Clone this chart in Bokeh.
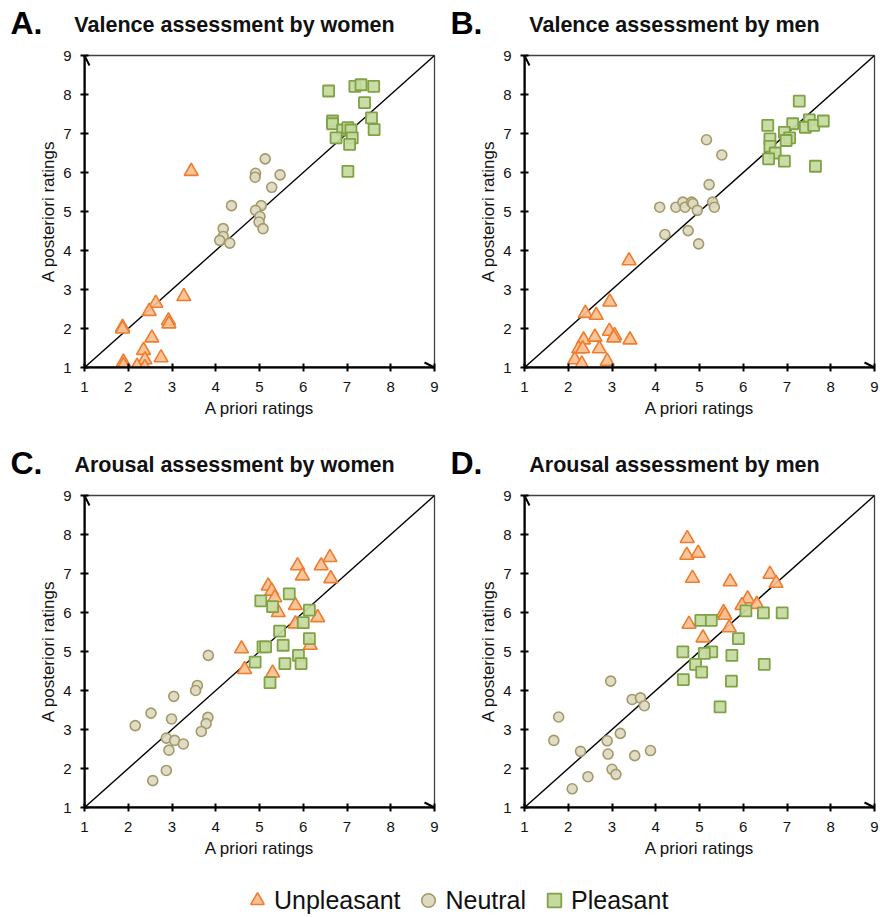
from bokeh.plotting import figure
from bokeh.layouts import column, row
from bokeh.models import Range1d, FixedTicker, Label, Arrow, OpenHead, Legend, LegendItem
from bokeh.core.properties import value
from bokeh.embed import file_html
from bokeh.resources import INLINE

# ---------------- data ----------------
TICKS = [1, 2, 3, 4, 5, 6, 7, 8, 9]
AXIS_MIN, AXIS_MAX = 1, 9
CATEGORIES = ["Unpleasant", "Neutral", "Pleasant"]
LETTERS = ["A.", "B.", "C.", "D."]
TITLES = ["Valence assessment by women", "Valence assessment by men",
          "Arousal assessment by women", "Arousal assessment by men"]
X_LABEL = "A priori ratings"
Y_LABEL = "A posteriori ratings"

# A. Valence, women
VW_UNP_X = [3.44, 3.27, 2.63, 2.48, 2.92, 2.93, 1.87, 1.87, 2.54, 2.35, 2.38, 2.75, 1.89, 1.89, 2.20, 2.38]
VW_UNP_Y = [6.03, 2.82, 2.65, 2.44, 2.20, 2.12, 2.03, 1.99, 1.76, 1.44, 1.20, 1.25, 1.14, 1.05, 1.03, 1.00]
VW_NEU_X = [5.13, 4.91, 4.90, 5.47, 5.28, 4.36, 5.04, 4.91, 5.01, 4.99, 5.08, 4.17, 4.17, 4.09, 4.32]
VW_NEU_Y = [6.35, 5.98, 5.88, 5.94, 5.62, 5.15, 5.15, 5.03, 4.87, 4.73, 4.56, 4.56, 4.36, 4.26, 4.19]
VW_PLE_X = [6.58, 7.18, 7.32, 7.61, 7.40, 7.56, 7.62, 6.67, 6.67, 6.90, 7.02, 7.09, 7.12, 6.75, 7.06, 7.02]
VW_PLE_Y = [8.09, 8.21, 8.25, 8.21, 7.79, 7.40, 7.10, 7.32, 7.25, 7.09, 7.15, 7.09, 6.89, 6.89, 6.72, 6.03]

# B. Valence, men
VM_UNP_X = [3.39, 2.95, 2.39, 2.64, 2.94, 3.06, 3.04, 3.41, 2.35, 2.61, 2.24, 2.33, 2.71, 2.15, 2.31, 2.89]
VM_UNP_Y = [3.74, 2.68, 2.39, 2.34, 1.93, 1.82, 1.76, 1.71, 1.71, 1.78, 1.48, 1.48, 1.48, 1.20, 1.09, 1.16]
VM_NEU_X = [5.16, 5.51, 5.22, 4.09, 4.46, 4.62, 4.67, 4.82, 4.85, 4.95, 5.30, 5.34, 4.21, 4.74, 4.98]
VM_NEU_Y = [6.84, 6.45, 5.69, 5.11, 5.11, 5.24, 5.11, 5.24, 5.20, 5.03, 5.24, 5.11, 4.41, 4.51, 4.17]
VM_PLE_X = [7.28, 6.56, 7.13, 7.51, 7.42, 7.61, 7.83, 6.94, 6.61, 7.06, 6.98, 6.61, 6.73, 6.58, 6.94, 7.65]
VM_PLE_Y = [7.83, 7.21, 7.25, 7.35, 7.16, 7.21, 7.32, 7.03, 6.86, 6.89, 6.82, 6.67, 6.50, 6.35, 6.29, 6.16]

# C. Arousal, women
AW_UNP_X = [6.61, 6.41, 5.87, 5.98, 6.63, 5.20, 5.28, 5.35, 5.82, 5.43, 6.33, 5.82, 6.16, 4.59, 4.66, 5.30]
AW_UNP_Y = [7.41, 7.20, 7.20, 6.94, 6.87, 6.68, 6.55, 6.38, 6.18, 6.00, 5.87, 5.71, 5.16, 5.07, 4.54, 4.45]
AW_NEU_X = [3.83, 3.58, 3.54, 3.04, 2.52, 2.16, 2.99, 3.82, 3.78, 3.67, 2.87, 3.06, 3.26, 2.93, 2.87, 2.56]
AW_NEU_Y = [4.90, 4.13, 4.00, 3.85, 3.42, 3.10, 3.27, 3.31, 3.15, 2.95, 2.78, 2.72, 2.63, 2.47, 1.95, 1.69]
AW_PLE_X = [5.68, 5.03, 5.30, 6.14, 6.00, 5.46, 6.14, 5.08, 5.14, 5.54, 4.90, 5.89, 5.95, 5.58, 5.24]
AW_PLE_Y = [6.48, 6.30, 6.15, 6.06, 5.74, 5.52, 5.33, 5.12, 5.12, 5.16, 4.73, 4.90, 4.69, 4.69, 4.20]

# D. Arousal, men
AM_UNP_X = [4.72, 4.71, 4.97, 4.84, 5.70, 6.61, 6.75, 6.10, 5.97, 6.31, 5.55, 5.58, 4.76, 5.68, 5.08]
AM_UNP_Y = [7.90, 7.47, 7.52, 6.88, 6.79, 6.98, 6.75, 6.35, 6.18, 6.21, 6.00, 5.93, 5.70, 5.61, 5.35]
AM_NEU_X = [2.97, 3.46, 3.65, 3.74, 1.78, 3.19, 1.67, 2.89, 2.28, 2.91, 3.52, 3.88, 3.00, 3.09, 2.45, 2.09]
AM_NEU_Y = [4.24, 3.77, 3.81, 3.61, 3.32, 2.90, 2.72, 2.71, 2.44, 2.37, 2.33, 2.46, 1.98, 1.85, 1.79, 1.48]
AM_PLE_X = [6.06, 6.46, 6.89, 5.03, 5.27, 5.89, 4.62, 5.28, 5.11, 5.74, 4.91, 6.48, 5.05, 4.63, 5.73, 5.47]
AM_PLE_Y = [6.04, 5.99, 5.99, 5.80, 5.80, 5.33, 4.99, 4.99, 4.95, 4.90, 4.67, 4.67, 4.47, 4.28, 4.24, 3.58]

# ---------------- style ----------------
FONT = "Liberation Sans"
STYLE = {
    "Unpleasant": dict(marker="triangle", size=14, fill_color="#FAC090", line_color="#ED7D31", line_width=1.6),
    "Neutral": dict(marker="circle", size=10, fill_color="#DDD9C3", line_color="#A39A68", line_width=1.6),
    "Pleasant": dict(marker="square", size=11, fill_color="#C6DA9E", line_color="#7FA246", line_width=1.8),
}
FRAME_W, FRAME_H = 350, 312
LEFT_B = 84
STRIP_H = 40
TOP_B = 15


def blank(width, height):
    f = figure(width=width, height=height, output_backend="svg", toolbar_location=None,
               min_border=0, min_border_left=0, min_border_right=0,
               min_border_top=0, min_border_bottom=0,
               x_range=Range1d(0, 1), y_range=Range1d(0, 1),
               x_axis_location=None, y_axis_location=None)
    f.grid.visible = False
    f.outline_line_color = None
    return f


def title_strip(idx, width):
    t = blank(width, STRIP_H)
    t.add_layout(Label(x=10, y=STRIP_H - 22, x_units="screen", y_units="screen",
                       text=LETTERS[idx], text_font=FONT, text_font_size="32px",
                       text_font_style="bold", text_baseline="middle", text_align="left",
                       text_color="black"))
    t.add_layout(Label(x=LEFT_B + FRAME_W / 2 - 25, y=STRIP_H - 24, x_units="screen", y_units="screen",
                       text=TITLES[idx], text_font=FONT, text_font_size="21.5px",
                       text_font_style="bold", text_baseline="middle", text_align="center",
                       text_color="#111111"))
    return t


def make_panel(unp, neu, ple, width, height, bottom):
    p = figure(width=width, height=height,
               x_range=Range1d(AXIS_MIN, AXIS_MAX), y_range=Range1d(AXIS_MIN, AXIS_MAX),
               output_backend="svg", toolbar_location=None,
               min_border_left=LEFT_B, min_border_right=width - LEFT_B - FRAME_W,
               min_border_top=TOP_B, min_border_bottom=bottom,
               x_axis_label=X_LABEL, y_axis_label=Y_LABEL)
    p.grid.visible = False
    p.outline_line_color = "#404040"
    p.outline_line_width = 1.3
    for ax in (p.xaxis[0], p.yaxis[0]):
        ax.ticker = FixedTicker(ticks=TICKS)
        ax.axis_line_width = 2
        ax.axis_line_color = "black"
        ax.major_tick_line_width = 2
        ax.major_tick_line_color = "black"
        ax.major_tick_in = 4
        ax.major_tick_out = 4
        ax.minor_tick_line_color = None
        ax.major_label_text_font = FONT
        ax.major_label_text_font_size = "15px"
        ax.major_label_text_color = "#111111"
        ax.axis_label_text_font = FONT
        ax.axis_label_text_font_size = "17px"
        ax.axis_label_text_font_style = "normal"
        ax.axis_label_text_color = "#111111"
    p.xaxis.major_label_standoff = 10
    p.xaxis.axis_label_standoff = 4
    p.yaxis.major_label_standoff = 9
    p.yaxis.axis_label_standoff = 2

    # identity line
    p.line([AXIS_MIN, AXIS_MAX], [AXIS_MIN, AXIS_MAX], line_color="black", line_width=1.4)

    for name, (xs, ys) in zip(CATEGORIES, (unp, neu, ple)):
        p.scatter(xs, ys, fill_alpha=0.92, **STYLE[name])

    # axis arrows
    p.add_layout(Arrow(end=OpenHead(size=10, line_width=2, line_color="black"),
                       x_start=AXIS_MIN, y_start=AXIS_MIN, x_end=AXIS_MAX, y_end=AXIS_MIN,
                       line_width=2, line_color="black"))
    p.add_layout(Arrow(end=OpenHead(size=10, line_width=2, line_color="black"),
                       x_start=AXIS_MIN, y_start=AXIS_MIN, x_end=AXIS_MIN, y_end=AXIS_MAX,
                       line_width=2, line_color="black"))
    return p


W_LEFT, W_RIGHT = 440, 440
tA, tB = title_strip(0, W_LEFT), title_strip(1, W_RIGHT)
tC, tD = title_strip(2, W_LEFT), title_strip(3, W_RIGHT)
H_TOP = 440 - STRIP_H
H_BOT = 870 - 440 - STRIP_H
pA = make_panel((VW_UNP_X, VW_UNP_Y), (VW_NEU_X, VW_NEU_Y), (VW_PLE_X, VW_PLE_Y), W_LEFT, H_TOP, H_TOP - TOP_B - FRAME_H)
pB = make_panel((VM_UNP_X, VM_UNP_Y), (VM_NEU_X, VM_NEU_Y), (VM_PLE_X, VM_PLE_Y), W_RIGHT, H_TOP, H_TOP - TOP_B - FRAME_H)
pC = make_panel((AW_UNP_X, AW_UNP_Y), (AW_NEU_X, AW_NEU_Y), (AW_PLE_X, AW_PLE_Y), W_LEFT, H_BOT, H_BOT - TOP_B - FRAME_H)
pD = make_panel((AM_UNP_X, AM_UNP_Y), (AM_NEU_X, AM_NEU_Y), (AM_PLE_X, AM_PLE_Y), W_RIGHT, H_BOT, H_BOT - TOP_B - FRAME_H)

# legend strip
pL = blank(W_LEFT + W_RIGHT, 47)
items = []
for name in CATEGORIES:
    r = pL.scatter([float("nan")], [float("nan")], **STYLE[name])
    items.append(LegendItem(label=value(name), renderers=[r]))
legend = Legend(items=items, orientation="horizontal", location=(240, 0),
                glyph_width=34, glyph_height=34, label_standoff=0, spacing=11,
                padding=0, margin=0, border_line_color=None, background_fill_alpha=0,
                label_text_font=FONT, label_text_font_size="25px", label_text_color="#111111")
pL.add_layout(legend)

layout = column(row(tA, tB), row(pA, pB), row(tC, tD), row(pC, pD), pL)

open("out.html", "w").write(file_html(layout, INLINE))
